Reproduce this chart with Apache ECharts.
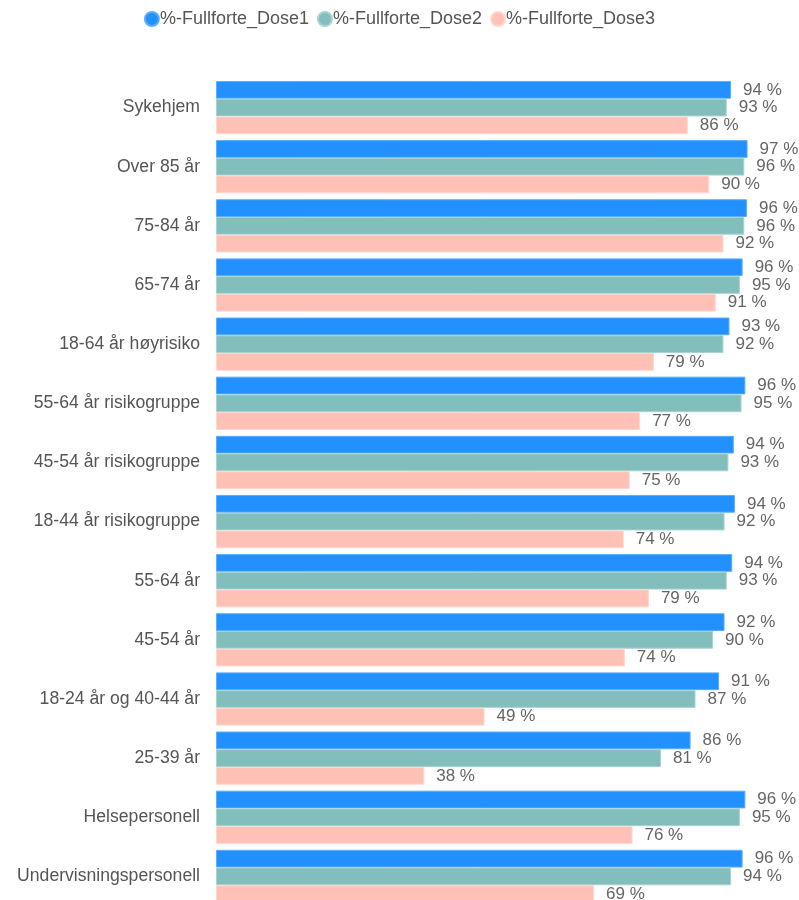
<!DOCTYPE html>
<html>
<head>
<meta charset="utf-8">
<script src="https://cdn.jsdelivr.net/npm/echarts@6/dist/echarts.min.js"></script>
<style>
html,body{margin:0;padding:0;background:#fff;overflow:hidden;}
#chart{width:799px;height:912px;}
</style>
</head>
<body>
<div id="chart"></div>
<script>
const categories = ["Sykehjem","Over 85 år","75-84 år","65-74 år","18-64 år høyrisiko","55-64 år risikogruppe","45-54 år risikogruppe","18-44 år risikogruppe","55-64 år","45-54 år","18-24 år og 40-44 år","25-39 år","Helsepersonell","Undervisningspersonell"];
const seriesNames = ["%-Fullforte_Dose1","%-Fullforte_Dose2","%-Fullforte_Dose3"];
const dose1 = [94.0,97.0,96.9,96.1,93.7,96.6,94.5,94.7,94.2,92.8,91.8,86.6,96.6,96.1];
const dose2 = [93.2,96.4,96.4,95.6,92.6,95.9,93.5,92.8,93.2,90.7,87.5,81.2,95.6,94.0];
const dose3 = [86.1,90.0,92.6,91.2,79.9,77.4,75.5,74.4,79.0,74.6,49.0,38.0,76.0,69.0];
const colors = ["#2291ff","#82bfbc","#ffc1b5"];
const borders = ["#5aaeff","#a6d3d1","#ffd6ce"];

const chart = echarts.init(document.getElementById('chart'));
const font = 'Arial, "Liberation Sans", sans-serif';
const data = [dose1, dose2, dose3];
chart.setOption({
  animation: false,
  textStyle: {fontFamily: font},
  legend: {
    top: 5, left: 'center',
    icon: 'circle', itemWidth: 14, itemHeight: 14, itemGap: 8,
    textStyle: {fontSize: 18, color: '#555', fontFamily: font, padding: [0,0,0,-4]},
    data: seriesNames
  },
  grid: {left: 216, right: 35, top: 78, height: 828, containLabel: false},
  xAxis: {type: 'value', min: 0, max: 100, show: false},
  yAxis: {
    type: 'category', inverse: true, data: categories,
    axisLine: {show: false}, axisTick: {show: false},
    axisLabel: {fontSize: 17.6, color: '#555', margin: 16, fontFamily: font}
  },
  series: data.map((d, i) => ({
    name: seriesNames[i], type: 'bar', data: d,
    barGap: '0%', barCategoryGap: '10%',
    itemStyle: {color: colors[i], borderColor: borders[i], borderWidth: 1},
    label: {show: true, position: 'right', distance: 12,
      formatter: p => Math.floor(p.value + 0.05) + ' %',
      fontSize: 17, color: '#666', fontFamily: font}
  }))
});
</script>
</body>
</html>
